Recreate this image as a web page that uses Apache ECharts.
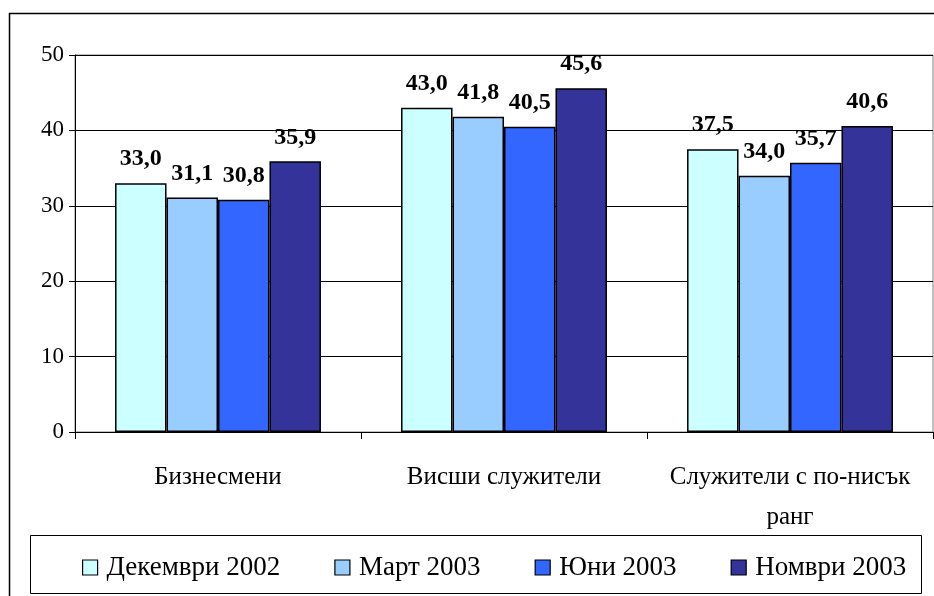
<!DOCTYPE html>
<html>
<head>
<meta charset="utf-8">
<script src="https://cdn.jsdelivr.net/npm/echarts@6/dist/echarts.min.js"></script>
<style>
  html, body { margin: 0; padding: 0; background: #fff; }
  #chart { width: 934px; height: 596px; }
</style>
</head>
<body>
<div id="chart"></div>
<script>
const categories = ['Бизнесмени', 'Висши служители', 'Служители с по-нисък\nранг'];
const seriesNames = ['Декември 2002', 'Март 2003', 'Юни 2003', 'Номври 2003'];
const dec2002 = [33.0, 43.0, 37.5];
const mar2003 = [31.1, 41.8, 34.0];
const jun2003 = [30.8, 40.5, 35.7];
const nov2003 = [35.9, 45.6, 40.6];
const yTicks = [0, 10, 20, 30, 40, 50];

const colors = ['#CCFFFF', '#99CCFF', '#3366FF', '#333399'];
const serif = '"Liberation Serif", "Times New Roman", serif';

const chart = echarts.init(document.getElementById('chart'));

const makeSeries = (name, data, i) => ({
  name: name,
  type: 'bar',
  data: data,
  barGap: '0%',
  barCategoryGap: '28%',
  itemStyle: {
    color: colors[i],
    borderColor: '#000',
    borderWidth: 1.5,
  },
  label: {
    show: true,
    position: 'top',
    distance: 12,
    fontFamily: serif,
    fontWeight: 'bold',
    fontSize: 24,
    color: '#000',
    formatter: (p) => p.value.toFixed(1).replace('.', ','),
  },
});

const option = {
  animation: false,
  backgroundColor: '#fff',
  grid: {
    left: 75,
    top: 55,
    right: 1,
    bottom: 164,
    show: true,
    borderColor: '#808080',
    borderWidth: 1,
  },
  graphic: [
    {
      type: 'polyline',
      shape: { points: [[9.5, 600], [9.5, 13.5], [940, 13.5]] },
      style: { stroke: '#000', lineWidth: 1.5, fill: null },
      silent: true,
    },
    {
      type: 'rect',
      shape: { x: 30.5, y: 535.5, width: 891, height: 58 },
      style: { stroke: '#000', lineWidth: 1, fill: null },
      silent: true,
    },
  ],
  legend: {
    data: seriesNames,
    left: 77,
    top: 549,
    itemWidth: 15,
    itemHeight: 15,
    itemGap: 54,
    icon: 'rect',
    itemStyle: { borderColor: '#000', borderWidth: 1.2 },
    textStyle: { fontFamily: serif, fontSize: 27, color: '#000', padding: [0, 0, 0, 4] },
  },
  xAxis: {
    type: 'category',
    data: categories,
    axisLine: { lineStyle: { color: '#000', width: 1 } },
    axisTick: { show: true, length: 7, interval: 0, lineStyle: { color: '#000' } },
    axisLabel: {
      interval: 0,
      fontFamily: serif,
      fontSize: 25,
      color: '#000',
      margin: 25,
      lineHeight: 40,
    },
  },
  yAxis: {
    type: 'value',
    min: 0,
    max: 50,
    interval: 10,
    axisLine: { show: true, lineStyle: { color: '#000', width: 1 } },
    axisTick: { show: true, length: 6, lineStyle: { color: '#000' } },
    axisLabel: {
      fontFamily: serif,
      fontSize: 23,
      color: '#000',
      margin: 11,
      formatter: (v) => (yTicks.includes(v) ? String(v) : ''),
    },
    splitLine: { lineStyle: { color: '#000', width: 1 } },
  },
  series: [
    makeSeries(seriesNames[0], dec2002, 0),
    makeSeries(seriesNames[1], mar2003, 1),
    makeSeries(seriesNames[2], jun2003, 2),
    makeSeries(seriesNames[3], nov2003, 3),
  ],
};

chart.setOption(option);
</script>
</body>
</html>
